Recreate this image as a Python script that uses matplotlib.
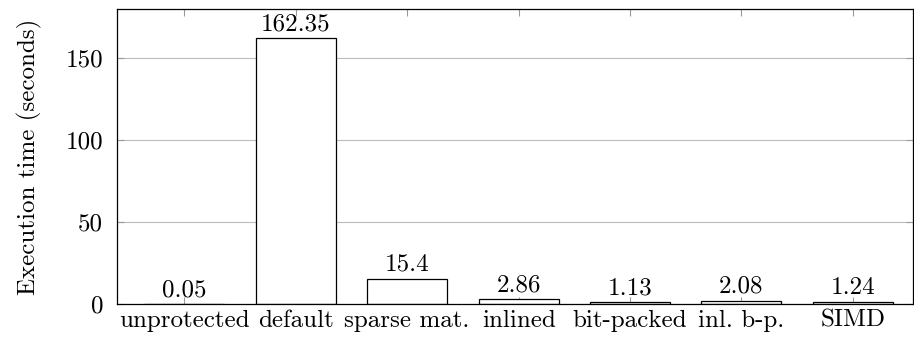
import matplotlib
matplotlib.use("Agg")
import matplotlib.pyplot as plt
import numpy as np

plt.rcParams['font.family'] = ['cmr10', 'DejaVu Serif']
plt.rcParams['axes.formatter.use_mathtext'] = True

# data
variants = ["unprotected", "default", "sparse mat.", "inlined", "bit-packed", "inl. b-p.", "SIMD"]
times = [0.05, 162.35, 15.4, 2.86, 1.13, 2.08, 1.24]
value_labels = ["0.05", "162.35", "15.4", "2.86", "1.13", "2.08", "1.24"]
y_ticks = [0, 50, 100, 150]

FS = 18

fig = plt.figure(figsize=(9.14, 3.41), dpi=100)
ax = fig.add_axes([117 / 914, 1 - 304 / 341, (913 - 117) / 914, (304 - 9) / 341])

x = np.arange(len(variants))
bars = ax.bar(x, times, width=0.718, color="white", edgecolor="black", linewidth=0.9, zorder=2)

for b, lab in zip(bars, value_labels):
    ax.annotate(lab, (b.get_x() + b.get_width() / 2, b.get_height()),
                xytext=(0, 2), textcoords="offset points",
                ha="center", va="bottom", fontsize=FS, zorder=3)

ax.set_xlim(-0.604, 6.54)
ax.set_ylim(0, 180)
ax.set_xticks(x, variants)
ax.set_yticks(y_ticks, [str(t) for t in y_ticks])
ax.tick_params(axis="both", labelsize=FS, direction="in", color="#999999",
               length=5, width=0.8, top=True, right=True)
ax.tick_params(axis="x", pad=4)
ax.tick_params(axis="y", pad=10)
ax.grid(axis="y", color="#bbbbbb", linewidth=0.8, zorder=0)
ax.set_axisbelow(True)
for s in ax.spines.values():
    s.set_linewidth(0.9)
    s.set_color("black")
    s.set_zorder(4)

ax.set_ylabel("Execution time (seconds)", fontsize=FS, labelpad=17)

fig.savefig("out.png", dpi=100)
